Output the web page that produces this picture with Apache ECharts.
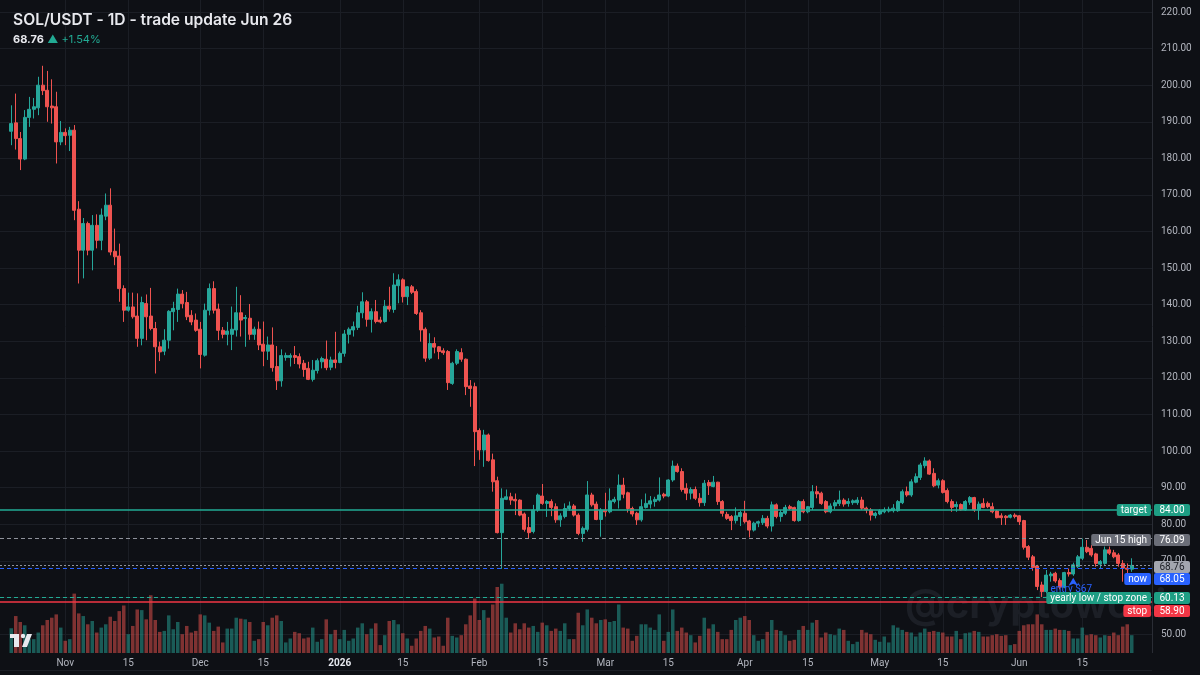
<!DOCTYPE html>
<html>
<head>
<meta charset="utf-8">
<title>SOL/USDT - 1D - trade update Jun 26</title>
<script src="https://cdn.jsdelivr.net/npm/echarts@6/dist/echarts.min.js"></script>
<style>
  html, body { margin: 0; padding: 0; background: #0e1015; }
  #chart { width: 1200px; height: 675px; }
</style>
</head>
<body>
<div id="chart"></div>
<script>
  // daily candles, one row per day: [open, close, low, high]
  const octCandles = [ // Oct 20 - Oct 31, 2025
    [187.4, 189.5, 183.6, 194.5], [189.7, 185.4, 182.4, 197.7], [185.4, 179.8, 176.8, 187.2],
    [179.8, 191.2, 179.5, 193.2], [191.2, 193.4, 188.6, 196.8], [193.4, 194.1, 190.9, 196.5],
    [193.8, 200.0, 191.8, 202.3], [200.0, 198.5, 197.3, 205.3], [198.6, 194.1, 190.0, 203.9],
    [194.3, 193.8, 189.5, 201.6], [194.1, 184.5, 178.6, 198.2], [184.5, 187.1, 183.6, 190.2]
  ];
  const novCandles = [
    [187.1, 186.2, 183.6, 188.2], [186.3, 187.7, 182.0, 188.6], [187.7, 165.8, 163.1, 189.1],
    [166.1, 154.9, 145.8, 168.3], [154.9, 162.2, 147.2, 163.7], [162.2, 154.9, 153.5, 162.7],
    [154.9, 161.7, 149.4, 164.5], [161.7, 157.6, 155.4, 164.7], [157.6, 164.5, 154.9, 166.3],
    [164.2, 167.2, 163.1, 170.4], [167.2, 154.4, 153.5, 171.8], [154.6, 153.1, 150.8, 160.8],
    [153.3, 144.4, 140.8, 156.7], [144.4, 138.5, 135.3, 145.3], [138.5, 139.4, 138.1, 143.3],
    [139.4, 136.7, 136.2, 143.3], [136.9, 130.8, 128.5, 143.1], [130.8, 140.6, 128.9, 142.2],
    [140.3, 136.7, 130.3, 142.8], [136.9, 133.5, 133.0, 144.6], [133.5, 128.5, 121.2, 135.3],
    [128.5, 127.1, 124.6, 129.9], [127.3, 130.3, 126.2, 133.3], [130.3, 138.2, 128.0, 138.5],
    [138.1, 139.0, 133.0, 140.8], [138.7, 142.9, 135.3, 144.4], [142.9, 140.3, 139.0, 144.0],
    [140.6, 136.7, 135.8, 143.5], [137.1, 135.3, 134.4, 138.5], [135.8, 133.0, 132.6, 137.6]
  ];
  const decCandles = [
    [133.3, 126.4, 122.6, 135.3], [126.2, 138.5, 125.8, 140.3], [138.5, 144.4, 137.1, 145.8],
    [144.4, 138.5, 137.6, 146.4], [138.8, 133.0, 130.3, 140.3], [133.0, 131.9, 130.8, 133.9],
    [131.9, 132.8, 128.9, 135.3], [131.9, 133.3, 127.6, 139.5], [133.1, 137.8, 131.3, 144.9],
    [137.8, 135.8, 131.3, 142.6], [136.2, 136.5, 128.5, 137.2], [136.3, 131.9, 130.4, 140.2],
    [131.9, 133.3, 130.4, 134.0], [133.3, 129.0, 127.6, 135.4], [129.2, 127.3, 123.2, 135.4],
    [127.3, 129.0, 124.9, 131.3], [129.0, 122.8, 121.7, 133.8], [123.1, 119.2, 116.7, 128.7],
    [119.2, 126.1, 117.6, 127.8], [125.6, 126.1, 124.7, 126.9], [125.6, 126.1, 123.1, 126.7],
    [126.1, 125.6, 123.8, 128.7], [125.8, 123.8, 122.6, 126.7], [124.0, 122.3, 120.3, 124.9],
    [122.6, 119.6, 119.4, 124.4], [119.6, 122.1, 119.0, 124.9], [122.0, 124.7, 121.2, 125.3],
    [124.4, 125.3, 122.6, 125.8], [125.1, 122.8, 122.1, 130.2], [122.9, 124.9, 122.1, 125.8],
    [124.9, 124.2, 122.6, 132.6]
  ];
  const janCandles = [
    [124.2, 126.7, 124.0, 127.2], [126.7, 132.0, 125.8, 133.1], [131.9, 133.3, 129.4, 133.8],
    [133.1, 134.0, 131.3, 135.4], [133.8, 137.8, 133.1, 139.7], [137.8, 140.8, 136.3, 143.4],
    [140.8, 136.0, 134.0, 141.3], [136.0, 138.1, 132.4, 139.0], [138.1, 135.4, 134.9, 141.3],
    [135.8, 135.3, 134.9, 136.7], [135.4, 139.6, 135.1, 141.3], [139.6, 138.8, 138.1, 144.9],
    [138.7, 145.4, 137.8, 148.6], [145.2, 146.8, 140.4, 148.3], [146.8, 142.2, 140.6, 147.2],
    [142.2, 144.9, 139.9, 145.1], [144.9, 143.4, 142.9, 145.4], [143.6, 137.6, 137.2, 144.2],
    [137.8, 133.1, 129.9, 138.5], [133.3, 125.4, 124.4, 133.8], [125.4, 129.4, 124.9, 132.2],
    [129.4, 128.4, 126.7, 131.1], [128.5, 127.2, 125.1, 128.7], [127.4, 126.9, 126.3, 128.1],
    [127.2, 118.7, 116.7, 127.6], [118.5, 124.0, 118.1, 124.4], [124.0, 127.2, 123.5, 127.8],
    [126.9, 125.1, 124.4, 128.1], [125.1, 117.6, 115.3, 125.3], [117.8, 117.1, 112.1, 119.4],
    [117.6, 105.3, 95.9, 118.7]
  ];
  const febCandles = [
    [105.6, 100.3, 97.6, 106.2], [100.3, 104.4, 95.7, 105.8], [104.4, 97.4, 97.1, 104.8],
    [97.6, 91.6, 88.9, 99.3], [91.9, 77.7, 77.5, 93.0], [77.7, 87.1, 67.8, 89.8],
    [86.8, 87.5, 86.6, 89.5], [87.5, 86.6, 85.3, 88.6], [86.8, 86.4, 82.5, 88.4],
    [86.6, 82.5, 82.2, 86.8], [82.8, 78.6, 78.0, 83.2], [79.1, 77.7, 76.1, 82.0],
    [78.0, 83.9, 77.5, 85.3], [83.9, 88.0, 83.4, 88.4], [87.7, 85.7, 85.3, 91.0],
    [85.7, 86.2, 82.0, 86.6], [86.2, 84.6, 82.2, 86.8], [84.8, 81.2, 80.4, 85.7],
    [81.2, 82.3, 79.3, 83.0], [82.1, 84.3, 81.6, 85.7], [84.3, 85.0, 83.7, 86.2],
    [85.0, 82.5, 82.1, 85.5], [82.5, 77.5, 77.0, 83.0], [77.5, 78.9, 75.2, 79.4],
    [78.6, 88.0, 78.0, 91.8], [88.0, 85.3, 84.8, 88.6], [85.5, 81.3, 81.1, 86.2],
    [81.3, 83.9, 76.6, 84.4]
  ];
  const marCandles = [
    [83.9, 83.4, 82.1, 88.6], [83.4, 86.4, 83.0, 89.8], [86.2, 86.8, 85.7, 87.5],
    [86.6, 90.7, 84.3, 93.6], [90.7, 88.2, 87.1, 92.7], [88.6, 84.3, 83.2, 88.9],
    [84.3, 82.8, 82.1, 84.8], [83.0, 81.2, 79.8, 83.4], [81.2, 84.8, 80.7, 86.8],
    [84.6, 85.7, 84.3, 88.4], [85.5, 86.4, 84.3, 87.7], [86.2, 86.8, 84.8, 87.5],
    [86.6, 88.0, 86.2, 92.8], [88.2, 87.7, 87.1, 88.6], [87.7, 92.1, 87.4, 92.3],
    [92.1, 95.9, 91.6, 97.4], [95.9, 94.4, 94.1, 96.6], [94.4, 89.5, 88.9, 95.3],
    [89.8, 88.5, 86.6, 91.2], [88.5, 89.5, 86.8, 90.1], [89.5, 87.1, 86.6, 90.3],
    [87.1, 85.9, 84.8, 88.5], [85.9, 91.2, 85.0, 92.1], [91.4, 90.5, 88.0, 92.1],
    [90.3, 91.5, 90.1, 93.2], [91.5, 86.2, 85.3, 91.6], [86.2, 83.0, 82.1, 86.6],
    [82.7, 81.6, 81.2, 83.4], [82.1, 81.0, 78.4, 82.5], [81.0, 82.3, 80.2, 84.6],
    [82.1, 83.2, 79.5, 83.7]
  ];
  const aprCandles = [
    [83.0, 80.7, 80.2, 86.4], [80.9, 78.4, 76.4, 81.2], [78.4, 80.3, 78.0, 80.7],
    [80.3, 80.7, 79.2, 81.0], [80.4, 81.6, 79.8, 82.5], [81.6, 79.5, 78.9, 82.3],
    [79.5, 85.3, 78.0, 86.2], [85.3, 82.1, 81.6, 85.7], [82.1, 83.2, 80.7, 83.9],
    [83.0, 84.6, 82.5, 85.3], [84.8, 84.3, 83.9, 85.3], [84.6, 81.0, 80.7, 84.8],
    [81.0, 86.2, 80.7, 86.6], [86.2, 83.4, 83.0, 86.8], [83.4, 84.8, 83.0, 85.0],
    [84.6, 88.9, 83.9, 90.7], [88.9, 88.3, 87.1, 90.5], [88.5, 85.7, 85.3, 88.9],
    [86.2, 83.4, 83.0, 86.6], [83.4, 85.0, 83.0, 85.7], [85.0, 85.9, 84.1, 86.6],
    [85.7, 86.6, 85.0, 89.2], [86.6, 85.5, 84.8, 87.1], [85.7, 86.2, 84.8, 87.1],
    [85.9, 86.4, 85.3, 86.8], [85.9, 86.6, 85.3, 87.4], [86.6, 84.4, 83.9, 87.5],
    [84.4, 83.9, 83.0, 84.8], [83.9, 82.5, 81.0, 84.4], [82.4, 83.0, 81.6, 83.4]
  ];
  const mayCandles = [
    [82.8, 83.7, 82.5, 84.1], [83.4, 83.9, 83.0, 84.6], [83.6, 84.1, 83.2, 84.8],
    [83.7, 84.4, 83.2, 85.5], [83.7, 86.2, 83.4, 86.6], [85.9, 88.9, 85.5, 89.5],
    [88.9, 88.0, 87.5, 90.3], [88.0, 91.6, 87.5, 92.3], [91.5, 93.0, 91.2, 93.9],
    [92.8, 96.2, 92.1, 96.8], [96.0, 97.3, 95.3, 98.3], [97.3, 93.7, 93.5, 97.7],
    [93.9, 90.5, 90.1, 95.3], [90.7, 91.9, 89.8, 92.5], [91.9, 88.7, 88.4, 92.3],
    [89.2, 86.2, 85.7, 89.8], [86.2, 84.6, 83.4, 86.8], [84.8, 85.4, 83.4, 86.2],
    [85.4, 83.9, 83.7, 85.7], [83.9, 86.2, 83.7, 86.6], [86.0, 87.3, 85.3, 87.7],
    [87.3, 83.9, 83.4, 87.5], [83.9, 85.5, 81.2, 86.2], [85.7, 84.6, 84.4, 87.1],
    [85.7, 84.8, 84.4, 86.2], [84.8, 83.4, 83.0, 85.9], [83.6, 81.8, 81.6, 83.9],
    [82.3, 81.8, 79.8, 83.0], [82.2, 81.8, 79.8, 82.5], [81.9, 82.5, 81.6, 82.8],
    [82.5, 82.1, 81.6, 83.0]
  ];
  const junCandles = [ // Jun 1 - Jun 26, 2026
    [82.3, 80.7, 79.8, 82.5], [81.0, 73.7, 73.1, 81.2], [73.9, 71.0, 70.2, 74.3],
    [71.1, 68.2, 67.3, 71.6], [68.6, 63.0, 62.0, 68.9], [63.4, 61.6, 60.13, 64.3],
    [61.6, 66.1, 61.1, 67.5], [65.9, 66.4, 64.3, 67.0], [66.6, 64.5, 64.0, 67.0],
    [64.6, 62.8, 62.2, 65.2], [62.8, 66.8, 62.5, 67.0], [66.8, 66.4, 65.7, 67.9],
    [66.4, 68.9, 65.9, 69.5], [68.4, 71.1, 68.0, 71.6], [70.7, 73.7, 70.2, 76.09],
    [73.7, 72.5, 72.1, 75.7], [73.4, 71.6, 71.1, 74.3], [71.9, 69.3, 68.4, 72.2],
    [69.1, 69.8, 68.0, 70.2], [69.3, 73.0, 68.9, 73.9], [73.0, 72.1, 71.6, 73.9],
    [72.2, 71.1, 70.7, 73.0], [71.6, 69.3, 68.4, 72.1], [69.3, 68.0, 64.3, 70.2],
    [68.0, 67.72, 63.9, 69.3], [67.72, 68.76, 67.0, 70.7]
  ];

  // daily volume (relative units)
  const octVolume = [75, 112, 94, 84, 42, 42, 62, 84, 100, 107, 117, 77];
  const novVolume = [37, 42, 180, 120, 112, 87, 97, 62, 77, 87, 110, 97, 127, 144, 57,
                     82, 132, 130, 102, 175, 100, 64, 67, 114, 72, 94, 57, 82, 62, 67];
  const decVolume = [117, 114, 92, 67, 80, 32, 74, 74, 107, 104, 102, 94, 37, 42, 94, 84,
                     107, 114, 97, 32, 44, 64, 60, 44, 47, 77, 34, 42, 102, 57, 70];
  const janVolume = [42, 70, 37, 44, 77, 90, 57, 74, 90, 24, 54, 97, 100, 87, 60, 44,
                     22, 44, 67, 82, 74, 47, 50, 22, 107, 52, 47, 54, 87, 114, 165];
  const febVolume = [100, 130, 107, 147, 200, 210, 107, 62, 90, 72, 90, 77, 82, 64,
                     92, 84, 67, 74, 67, 90, 42, 42, 122, 84, 132, 107, 90, 100];
  const marVolume = [102, 94, 97, 147, 77, 74, 37, 52, 87, 87, 77, 70, 117, 37, 64, 132,
                     67, 77, 62, 54, 32, 52, 107, 74, 87, 64, 42, 42, 70, 100, 107];
  const aprVolume = [112, 100, 54, 37, 42, 64, 100, 70, 67, 54, 37, 40, 70, 82, 70,
                     92, 100, 47, 62, 57, 54, 74, 70, 37, 27, 34, 70, 62, 57, 40];
  const mayVolume = [34, 50, 32, 84, 77, 70, 64, 62, 50, 62, 74, 64, 67, 64, 62, 50,
                     50, 67, 42, 60, 62, 67, 64, 50, 50, 54, 57, 52, 54, 24, 27];
  const junVolume = [67, 84, 87, 87, 117, 87, 70, 70, 74, 70, 70, 67, 44, 44, 77, 54,
                     57, 54, 47, 54, 52, 62, 54, 80, 87, 54];

  const monthNames = ['Jan', 'Feb', 'Mar', 'Apr', 'May', 'Jun', 'Jul', 'Aug', 'Sep', 'Oct', 'Nov', 'Dec'];
  const priceTicks = [50, 60, 70, 80, 90, 100, 110, 120, 130, 140, 150, 160, 170, 180, 190, 200, 210, 220];

  // horizontal levels drawn on the chart
  const levelNames = ['target', 'Jun 15 high', '', 'now', 'yearly low / stop zone', 'stop'];
  const levelPrices = [84.00, 76.09, 68.76, 68.05, 60.13, 58.90];

  const entryDay = '2026-06-13';
  const entryPrice = 65.4;
  const entryText = 'entry $67';

  // ---- styles ----
  const BG = '#0e1015';
  const GRID = '#1b1e25';
  const AXIS_TEXT = '#b2b5be';
  const UP = '#26a69a', DOWN = '#ef5350';
  const UP_VOL = 'rgba(38,166,154,0.5)', DOWN_VOL = 'rgba(239,83,80,0.5)';
  const FONT = 'Roboto, "Noto Sans", sans-serif';

  const levelLine = [
    { color: '#22ab94', width: 1.5, type: 'solid' },
    { color: '#8f929b', width: 1, type: [4, 3] },
    { color: '#8f929b', width: 1, type: [2, 2] },
    { color: '#2962ff', width: 1, type: [4, 3] },
    { color: '#22ab94', width: 1, type: [4, 3] },
    { color: '#f23645', width: 1.5, type: 'solid' }
  ];
  const levelTag = [
    { bg: '#1e9e84', fg: '#ffffff', dy: 0 },
    { bg: '#6b6e78', fg: '#ffffff', dy: 1.5 },
    { bg: '#a3a6af', fg: '#1b1d24', dy: 1.5 },
    { bg: '#2962ff', fg: '#ffffff', dy: 11 },
    { bg: '#1e9e84', fg: '#ffffff', dy: 1.5 },
    { bg: '#f23645', fg: '#ffffff', dy: 9.5 }
  ];

  const candles = [].concat(octCandles, novCandles, decCandles, janCandles, febCandles,
                            marCandles, aprCandles, mayCandles, junCandles);
  const volumes = [].concat(octVolume, novVolume, decVolume, janVolume, febVolume,
                            marVolume, aprVolume, mayVolume, junVolume);

  // two empty days before the first candle, four after the last one
  const LEAD = 2, TRAIL = 4;
  const firstDay = Date.UTC(2025, 9, 20);
  const dates = [];
  for (let i = -LEAD; i < candles.length + TRAIL; i++) {
    dates.push(new Date(firstDay + i * 86400000).toISOString().slice(0, 10));
  }

  const candleData = [];
  const volumeData = [];
  for (let i = 0; i < LEAD; i++) {
    candleData.push(['-', '-', '-', '-']);
    volumeData.push('-');
  }
  candles.forEach((c, i) => {
    candleData.push(c);
    volumeData.push({ value: volumes[i], itemStyle: { color: c[1] >= c[0] ? UP_VOL : DOWN_VOL } });
  });

  function isMarkDay(day) {
    const d = +day.slice(8, 10);
    return d === 1 || d === 15;
  }

  function dayLabel(day) {
    const m = +day.slice(5, 7), d = +day.slice(8, 10);
    if (d === 15) return '15';
    if (m === 1) return '{year|' + day.slice(0, 4) + '}';
    return monthNames[m - 1];
  }

  const chart = echarts.init(document.getElementById('chart'));

  const option = {
    backgroundColor: BG,
    animation: false,
    grid: [
      // price grid: 220 at y=12, 40 at y=670.6
      { left: 0, right: 48, top: 12, bottom: 4.4 },
      // volume grid, baseline at y=653
      { left: 0, right: 48, bottom: 22, height: 99 }
    ],
    xAxis: [
      {
        type: 'category', gridIndex: 0, data: dates, boundaryGap: true,
        axisLine: { show: false }, axisTick: { show: false }, axisLabel: { show: false },
        splitLine: { show: false }
      },
      {
        type: 'category', gridIndex: 1, data: dates, boundaryGap: true,
        axisLine: { show: false }, axisTick: { show: false }, splitLine: { show: false },
        axisLabel: {
          interval: (i, v) => isMarkDay(v),
          formatter: dayLabel,
          color: AXIS_TEXT, fontSize: 10, fontFamily: FONT, margin: 5,
          rich: { year: { color: '#e6e8ee', fontWeight: 'bold', fontSize: 10, fontFamily: FONT } }
        }
      }
    ],
    yAxis: [
      {
        type: 'value', gridIndex: 0, position: 'right', min: 40, max: 220, interval: 10,
        axisLine: { show: false }, axisTick: { show: false },
        splitLine: { show: true, lineStyle: { color: GRID, width: 1 } },
        axisLabel: {
          color: AXIS_TEXT, fontSize: 10, fontFamily: FONT, margin: 9,
          formatter: v => (priceTicks.indexOf(v) >= 0 ? v.toFixed(2) : '')
        }
      },
      {
        type: 'value', gridIndex: 1, min: 0, max: 300, show: false
      }
    ],
    series: [
      {
        name: 'volume', type: 'bar', xAxisIndex: 1, yAxisIndex: 1,
        data: volumeData, barWidth: '78%', z: 1, silent: true
      },
      {
        name: 'SOL/USDT', type: 'candlestick', xAxisIndex: 0, yAxisIndex: 0,
        data: candleData, barWidth: '74%', z: 3,
        itemStyle: { color: UP, color0: DOWN, borderColor: UP, borderColor0: DOWN, borderWidth: 1 },
        markLine: {
          symbol: ['none', 'none'], silent: true, animation: false,
          label: { show: false },
          data: levelPrices.map((p, i) => ({ yAxis: p, lineStyle: levelLine[i] }))
        },
        markPoint: {
          silent: true, animation: false,
          data: [{
            coord: [entryDay, entryPrice], symbol: 'arrow', symbolSize: [7, 8],
            itemStyle: { color: '#2962ff' },
            label: {
              show: true, position: 'bottom', distance: 0, offset: [-2, -1], formatter: entryText,
              color: '#2962ff', fontSize: 10, fontFamily: FONT
            }
          }]
        }
      }
    ]
  };

  chart.setOption(option);

  // vertical grid lines on the 1st and 15th, through the library's x scale
  const xOf = d => chart.convertToPixel({ xAxisIndex: 0 }, d);
  const yOf = p => chart.convertToPixel({ yAxisIndex: 0 }, p);
  const TAG_FONT = '10px ' + FONT;
  const graphics = [];

  dates.filter(isMarkDay).forEach(d => {
    const x = Math.round(xOf(d)) + 0.5;
    graphics.push({ type: 'line', z: 0, silent: true, shape: { x1: x, y1: 0, x2: x, y2: 653 }, style: { stroke: GRID, lineWidth: 1 } });
  });

  graphics.push(
    {
      type: 'text', x: 13, y: 20, z: 50,
      style: { text: 'SOL/USDT - 1D - trade update Jun 26', font: '600 15.6px Inter, ' + FONT, fill: '#e8e9ee', verticalAlign: 'middle' }
    },
    {
      type: 'text', x: 13, y: 40, z: 50,
      style: {
        text: '{p|68.76} {c|▲ +1.54%}', verticalAlign: 'middle',
        rich: {
          p: { font: 'bold 11px Inter, ' + FONT, fill: '#e8e9ee' },
          c: { font: '11px Inter, ' + FONT, fill: '#22ab94' }
        }
      }
    },
    {
      type: 'text', x: 905, y: 606, z: 0,
      style: { text: '@cryptowoei', font: 'bold 40px Inter, ' + FONT, fill: '#1c1f26', verticalAlign: 'middle' }
    },
    // tradingview mark
    { type: 'rect', z: 50, shape: { x: 10, y: 634, width: 9, height: 4 }, style: { fill: '#e8e9ee' } },
    { type: 'rect', z: 50, shape: { x: 14, y: 634, width: 5, height: 13 }, style: { fill: '#e8e9ee' } },
    { type: 'circle', z: 50, shape: { cx: 23, cy: 636, r: 2.2 }, style: { fill: '#e8e9ee' } },
    { type: 'polygon', z: 50, shape: { points: [[27, 634], [32, 634], [27, 647], [22, 647]] }, style: { fill: '#e8e9ee' } },
    // right axis separator
    { type: 'line', z: 50, shape: { x1: 1152.5, y1: 0, x2: 1152.5, y2: 653 }, style: { stroke: '#2a2d35', lineWidth: 1 } }
  );

  levelPrices.forEach((p, i) => {
    const t = levelTag[i];
    const y = Math.round(yOf(p) + t.dy);
    if (levelNames[i]) {
      graphics.push({
        type: 'text', x: 1151, y: y, z: 100,
        style: {
          text: levelNames[i], font: TAG_FONT, fill: t.fg, align: 'right', verticalAlign: 'middle',
          backgroundColor: t.bg, padding: [0, 4, 0, 4], lineHeight: 12, borderRadius: 2
        }
      });
    }
    graphics.push({
      type: 'rect', z: 100,
      shape: { x: 1154, y: y - 6, width: 36, height: 12, r: 2 },
      style: { fill: t.bg }
    });
    graphics.push({
      type: 'text', x: 1172, y: y, z: 101,
      style: { text: p.toFixed(2), font: TAG_FONT, fill: t.fg, align: 'center', verticalAlign: 'middle' }
    });
  });

  chart.setOption({ graphic: graphics });
</script>
</body>
</html>
